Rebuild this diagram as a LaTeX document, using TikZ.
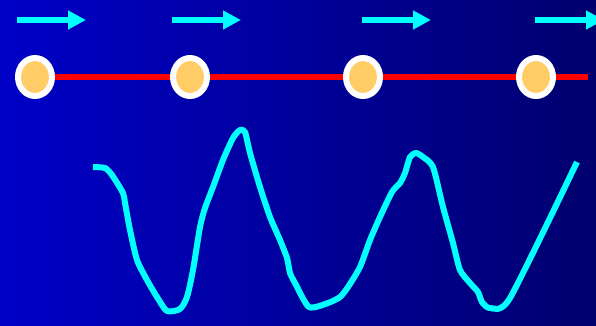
\documentclass[tikz,border=0pt]{standalone}
\usepackage{tikz}
\usetikzlibrary{arrows.meta, positioning, shapes.geometric}
\definecolor{bgleft}{HTML}{0000C8}
\definecolor{bgright}{HTML}{00006E}
\definecolor{wavecyan}{HTML}{00FFFF}
\definecolor{beadfill}{HTML}{FFCC66}
\definecolor{stringred}{HTML}{FF0000}
\tikzset{
  bead/.style={ellipse, draw=white, line width=6pt, fill=beadfill,
    minimum width=34pt, minimum height=38pt, inner sep=0pt},
  stringline/.style={stringred, line width=6pt},
  movearrow/.style={-{Triangle[length=18pt, width=18pt]}, wavecyan, line width=6pt},
  waveline/.style={wavecyan, line width=6pt, line join=round},
}

\begin{document}
\begin{tikzpicture}[x=1pt,y=-1pt]
  % Hintergrund mit Verlauf
  \shade[left color=bgleft, right color=bgright] (0,0) rectangle (596,325);
  \useasboundingbox (0,0) rectangle (596,325);

  % Pfeile oben
  \foreach \s/\e [count=\k] in {17/86, 172/241, 362/431, 535/604} {
    \coordinate (a\k) at (\s,20);
    \coordinate (b\k) at (\e,20);
    \draw[movearrow] (a\k) -- (b\k);
  }

  % Saite mit Perlen
  \coordinate (send) at (588,77);
  \foreach \x [count=\k] in {35,190,363,536} {
    \coordinate (p\k) at (\x,77);
  }
  \draw[stringline] (p1) -- (send);
  \foreach \k in {1,...,4} {
    \node[bead] (bead\k) at (p\k) {};
  }

  % Welle
  \draw[waveline] plot[smooth, tension=0.4] coordinates {
    (93,167) (105,168) (112,175) (123,193) (125,203) (130,230) (137,260)
    (147,280) (157,297) (167,311) (180,309) (187,297) (193,270) (200,227)
    (205,208) (213,187) (223,160) (233,138) (240,130) (245,132) (250,153)
    (260,187) (270,217) (280,240) (287,258) (290,273) (295,283) (309,307)
    (328,303) (340,297) (348,287) (360,267) (370,240) (380,217) (392,192)
    (400,183) (405,173) (410,157) (416,153) (423,157) (433,167) (443,207)
    (453,243) (460,270) (470,283) (478,292) (482,302) (490,308)
    (510,298) (577,162)};
\end{tikzpicture}
\end{document}
